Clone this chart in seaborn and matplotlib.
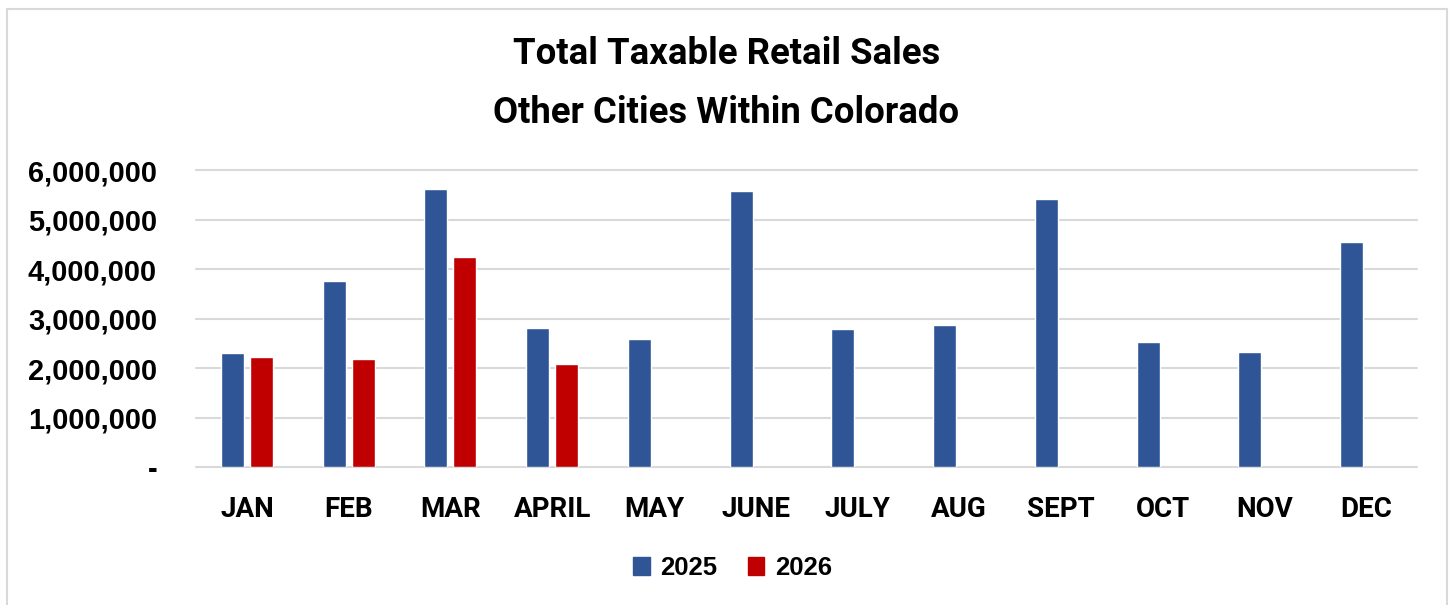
import pandas as pd
import matplotlib.pyplot as plt
import seaborn as sns
from matplotlib.patches import Rectangle
from matplotlib.ticker import FuncFormatter

sns.set_theme(style="white")
plt.rcParams['font.family'] = ['Liberation Sans', 'DejaVu Sans']
plt.rcParams['text.color'] = 'black'
plt.rcParams['xtick.color'] = 'black'
plt.rcParams['ytick.color'] = 'black'

# Dữ liệu doanh số theo tháng
months = ['JAN', 'FEB', 'MAR', 'APRIL', 'MAY', 'JUNE', 'JULY', 'AUG', 'SEPT', 'OCT', 'NOV', 'DEC']
sales_2025 = [2310000, 3760000, 5620000, 2800000, 2590000, 5570000, 2790000, 2860000, 5420000, 2530000, 2320000, 4540000]
sales_2026 = [2220000, 2180000, 4250000, 2080000, None, None, None, None, None, None, None, None]
years = ['2025', '2026']
colors = ['#2F5597', '#C00000']

df = pd.DataFrame({'Month': months * 2,
                   'Sales': sales_2025 + sales_2026,
                   'Year': [years[0]] * 12 + [years[1]] * 12})

fig = plt.figure(figsize=(14.53, 6.05), dpi=100)
ax = fig.add_axes([0.1349, 0.2281, 0.8403, 0.4909])

sns.barplot(data=df, x='Month', y='Sales', hue='Year', palette=colors, saturation=1,
            width=0.57, gap=0.2, ax=ax, legend=False)

ax.set_ylim(0, 6000000)
ax.set_yticks(range(0, 6000001, 1000000))
ax.yaxis.set_major_formatter(FuncFormatter(lambda v, p: '-' if v == 0 else f'{int(v):,}'))
ax.grid(axis='y', color='#D9D9D9', linewidth=1.5, clip_on=False)
ax.set_axisbelow(True)
for s in ax.spines.values():
    s.set_visible(False)
ax.set_xlabel('')
ax.set_ylabel('')
ax.tick_params(axis='y', length=0, pad=28, labelsize=20.9)
ax.tick_params(axis='x', length=0, pad=21)
for lab in ax.get_yticklabels():
    lab.set_fontweight('bold')
for lab in ax.get_xticklabels():
    lab.set_fontweight('bold')
    lab.set_fontfamily('Roboto')
    lab.set_fontsize(20)

# Tiêu đề hai dòng
fig.text(0.5, 0.894, 'Total Taxable Retail Sales', ha='center', va='baseline',
         fontsize=26.3, fontweight='bold', family='Roboto')
fig.text(0.5, 0.797, 'Other Cities Within Colorado', ha='center', va='baseline',
         fontsize=26.3, fontweight='bold', family='Roboto')

# Chú thích
handles = [Rectangle((0, 0), 1, 1, color=c) for c in colors]
fig.legend(handles, years, loc='center', bbox_to_anchor=(0.504, 0.061), ncol=2,
           frameon=False, prop={'weight': 'bold', 'size': 18.5, 'family': 'Liberation Sans'},
           handlelength=0.65, handleheight=0.65, handletextpad=0.4, columnspacing=1.2)

# Khung viền
fig.patches.append(Rectangle((7 / 1453, -0.05), 1440 / 1453, 1.05 - 9 / 605, transform=fig.transFigure,
                             fill=False, edgecolor='#D9D9D9', linewidth=1.5))

plt.savefig('out.png', dpi=100)
